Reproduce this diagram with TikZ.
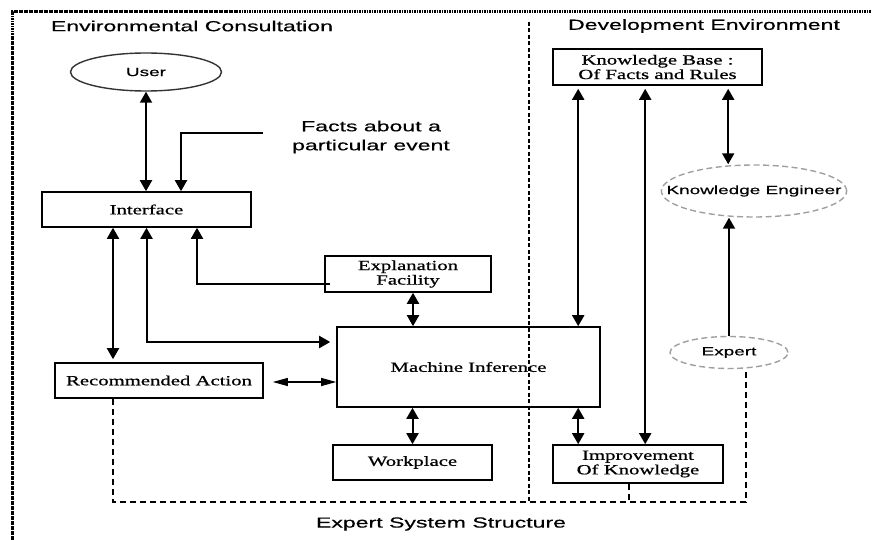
\documentclass[tikz,border=0pt]{standalone}
\usepackage{fontspec}
\setmainfont[FakeStretch=1.48,FakeBold=0.8]{Liberation Serif}
\newfontfamily\widesans[FakeStretch=1.58,FakeBold=0.4]{Liberation Sans}
\usepackage{tikz}
\usetikzlibrary{arrows.meta,positioning,shapes.geometric,calc}

\begin{document}
\begin{tikzpicture}[
  x=1pt,y=-1pt,
  box/.style={draw,line width=1.6pt,inner sep=0pt,align=center,
              font=\fontsize{14}{14.5}\selectfont},
  oval/.style={draw=black!80,ellipse,line width=1.4pt,inner sep=0pt,
               font=\widesans\fontsize{12}{14}\selectfont},
  dashoval/.style={oval,draw=gray!75,dash pattern=on 6pt off 3.5pt},
  heading/.style={inner sep=0pt,align=center,
                  font=\widesans\fontsize{14.6}{19}\selectfont},
  ar/.style={-{Triangle[length=11pt,width=12pt]},line width=2pt},
  dbl/.style={{Triangle[length=11pt,width=12pt]}-{Triangle[length=11pt,width=12pt]},line width=2pt},
  thindbl/.style={{Triangle[length=15pt,width=8pt]}-{Triangle[length=15pt,width=8pt]},line width=1.1pt},
  fb/.style={dash pattern=on 6pt off 4pt,line width=1.8pt},
  divider/.style={dash pattern=on 4pt off 2.5pt,line width=1.5pt},
  border/.style={dash pattern=on 1.6pt off 0.9pt,line width=3pt},
]
\useasboundingbox (0,0) rectangle (872,540);

% ---- Frame and headings
\draw[border] (12,545) -- (12,12) -- (880,12);
\draw[divider] (529,22) -- (529,501);
\node[heading] (envtitle) at (192,26) {Environmental Consultation};
\node[heading] (devtitle) at (704,26) {Development Environment};
\node[heading] (systitle) at (441,524) {Expert System Structure};

% ---- Consultation side
\node[oval,minimum width=151,minimum height=38] (user) at (146,72) {User};
\node[heading] (facts) at (371,137) {Facts about a\\particular event};
\coordinate (factsend) at (263,133);
\node[box,minimum width=209,minimum height=35] (iface) at (146.5,209.5) {Interface};
\node[box,minimum width=166,minimum height=36] (expl) at (408,274) {Explanation\\Facility};
\node[box,minimum width=263,minimum height=80] (infer) at (468.5,367) {Machine Inference};
\node[box,minimum width=208,minimum height=35] (recact) at (159,380.5) {Recommended Action};
\node[box,minimum width=159,minimum height=35] (work) at (412.5,462.5) {Workplace};

% ---- Development side
\node[box,minimum width=209,minimum height=36] (kb) at (657.5,67) {Knowledge Base :\\Of Facts and Rules};
\node[box,minimum width=170,minimum height=38] (improve) at (638,464) {Improvement\\Of Knowledge};
\node[dashoval,minimum width=184,minimum height=52,inner xsep=-22pt] (keng) at (754,191) {Knowledge Engineer};
\node[dashoval,minimum width=118,minimum height=32] (expert) at (729,352.5) {Expert};

% ---- Arrows
\draw[dbl] (user.south) -- (user.south |- iface.north);
\draw[ar] (factsend) -| ([xshift=34.5pt]iface.north);
\draw[dbl,shorten >=3pt] ([xshift=-33.5pt]iface.south) -- ([xshift=-33.5pt]iface.south |- recact.north);
\draw[dbl,shorten >=6pt] (iface.south) |- ($(infer.west)+(0,-25)$);
\draw[ar] ([xshift=6pt,yshift=-10pt]expl.west) -| ([xshift=50.5pt]iface.south);
\draw[dbl] ([xshift=5pt]expl.south) -- ([xshift=5pt]expl.south |- infer.north);
\draw[thindbl,shorten <=9pt] ([yshift=-1.5pt]recact.east) -- ([yshift=-1.5pt]recact.east -| infer.west);
\draw[dbl] (work.north |- infer.south) -- (work.north);
\draw[dbl,shorten <=3pt] ([xshift=26pt]kb.south west) -- ([xshift=26pt]kb.south west |- infer.north);
\draw[dbl,shorten <=3pt] ([xshift=93pt]kb.south west) -- ([xshift=93pt]kb.south west |- improve.north);
\draw[dbl,shorten <=3pt] ([xshift=176pt]kb.south west) -- ([xshift=176pt]kb.south west |- keng.north);
\draw[ar] (expert.north) -- (expert.north |- keng.south);
\draw[dbl] ([xshift=26pt]improve.north west |- infer.south) -- ([xshift=26pt]improve.north west);

% ---- Feedback (dashed)
\draw[fb] ([xshift=59pt]recact.south west) -- ++(0,103) -| ([xshift=17pt,yshift=-0.7pt]expert.south);
\draw[fb] ([xshift=-9pt]improve.south) -- ++(0,19);

\end{tikzpicture}
\end{document}
